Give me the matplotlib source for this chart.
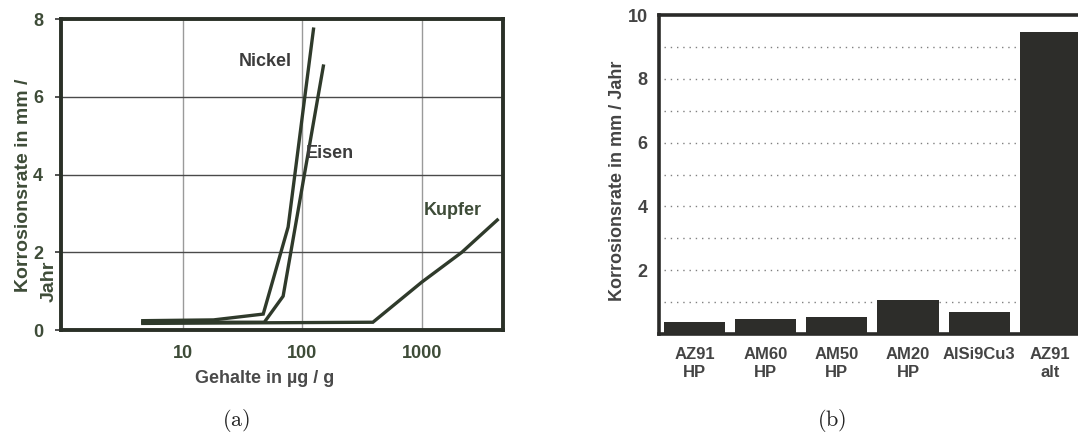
import matplotlib
matplotlib.use("Agg")
import matplotlib.pyplot as plt
import numpy as np

plt.rcParams['font.family'] = ['Liberation Sans', 'DejaVu Sans']
plt.rcParams['font.weight'] = 'bold'
plt.rcParams['axes.labelweight'] = 'bold'
plt.rcParams['mathtext.fontset'] = 'cm'

# (a) corrosion rate vs. impurity content
nickel_x = [4.6, 18, 47, 76, 124]
nickel_y = [0.24, 0.26, 0.41, 2.65, 7.74]
eisen_x = [4.6, 48, 69, 150]
eisen_y = [0.2, 0.2, 0.87, 6.79]
kupfer_x = [4.6, 390, 1000, 2170, 4300]
kupfer_y = [0.17, 0.2, 1.23, 2.0, 2.83]

# (b) corrosion rate of alloys
alloys = ['AZ91\nHP', 'AM60\nHP', 'AM50\nHP', 'AM20\nHP', 'AlSi9Cu3', 'AZ91\nalt']
rates = [0.37, 0.47, 0.53, 1.06, 0.69, 9.47]

line_col = '#2f3a2b'
text_col = '#3c3c3c'
green_txt = '#3e4c38'

fig = plt.figure(figsize=(10.78, 4.34), dpi=100)

# ---- left panel
ax1 = fig.add_axes([0.0566, 0.2396, 0.410, 0.7166])
ax1.set_xscale('log')
ax1.set_xlim(0.95, 4800)
ax1.set_ylim(0, 8)

ax1.plot(nickel_x, nickel_y, color=line_col, lw=2.4, solid_joinstyle='miter')
ax1.plot(eisen_x, eisen_y, color=line_col, lw=2.4, solid_joinstyle='miter')
ax1.plot(kupfer_x, kupfer_y, color=line_col, lw=2.4, solid_joinstyle='miter')

for v in [10, 100, 1000]:
    ax1.axvline(v, color='#9a9a9a', lw=1.0, zorder=0)
for v in [2, 4, 6]:
    ax1.axhline(v, color='#4a4a4a', lw=1.0, zorder=0)

ax1.text(82, 6.9, 'Nickel', ha='right', va='center', fontsize=13, color=text_col)
ax1.text(106, 4.55, 'Eisen', ha='left', va='center', fontsize=13, color=text_col)
ax1.text(1040, 3.08, 'Kupfer', ha='left', va='center', fontsize=13, color=green_txt)

ax1.set_xticks([10, 100, 1000])
ax1.set_xticklabels(['10', '100', '1000'])
ax1.xaxis.set_minor_locator(matplotlib.ticker.NullLocator())
ax1.set_yticks([0, 2, 4, 6, 8])
ax1.tick_params(axis='x', length=0, pad=11, labelsize=13, labelcolor=green_txt)
ax1.tick_params(axis='y', length=4, width=1.2, color='#333333', pad=9,
                labelsize=13, labelcolor=green_txt)
for s in ax1.spines.values():
    s.set_linewidth(2.8)
    s.set_color('#2a3027')

ax1.set_xlabel('Gehalte in µg / g', fontsize=13, color='#4a4a4a')
ax1.xaxis.set_label_coords(0.46, -0.13)
# y label is broken over two lines, second line sits next to the ticks
ax1.set_ylabel('Korrosionsrate in mm /', fontsize=14, color=green_txt)
ax1.yaxis.set_label_coords(-0.066, 0.466)
ax1.text(-0.027, 0.09, 'Jahr', rotation=90, transform=ax1.transAxes,
         ha='center', va='bottom', fontsize=14, color=green_txt)

# ---- right panel
ax2 = fig.add_axes([0.6113, 0.2304, 0.396, 0.735])
xs = np.arange(len(alloys))
ax2.bar(xs, rates, width=0.86, color='#2d2d2a', zorder=3)
ax2.set_xlim(-0.5, 5.5)
ax2.set_ylim(0, 10)
for v in range(1, 10):
    ax2.axhline(v, xmin=0.012, color='#808080', lw=1.0, ls=(0, (1, 3.5)), zorder=1)
ax2.set_xticks(xs)
ax2.set_xticklabels(alloys, fontsize=12, color='#444444', linespacing=1.25)
ax2.set_yticks([2, 4, 6, 8, 10])
ax2.tick_params(axis='x', length=0, pad=9)
ax2.tick_params(axis='y', length=0, pad=8, labelsize=13, labelcolor='#444444')
for s in ax2.spines.values():
    s.set_linewidth(2.6)
    s.set_color('#2a2a28')
ax2.set_ylabel('Korrosionsrate in mm / Jahr', fontsize=13, color='#444444')
ax2.yaxis.set_label_coords(-0.077, 0.48)

fig.text(0.219, 0.03, r'$\mathrm{(a)}$', fontsize=16, ha='center', va='center', color='#222222')
fig.text(0.772, 0.03, r'$\mathrm{(b)}$', fontsize=16, ha='center', va='center', color='#222222')

fig.savefig('out.png', dpi=100)
